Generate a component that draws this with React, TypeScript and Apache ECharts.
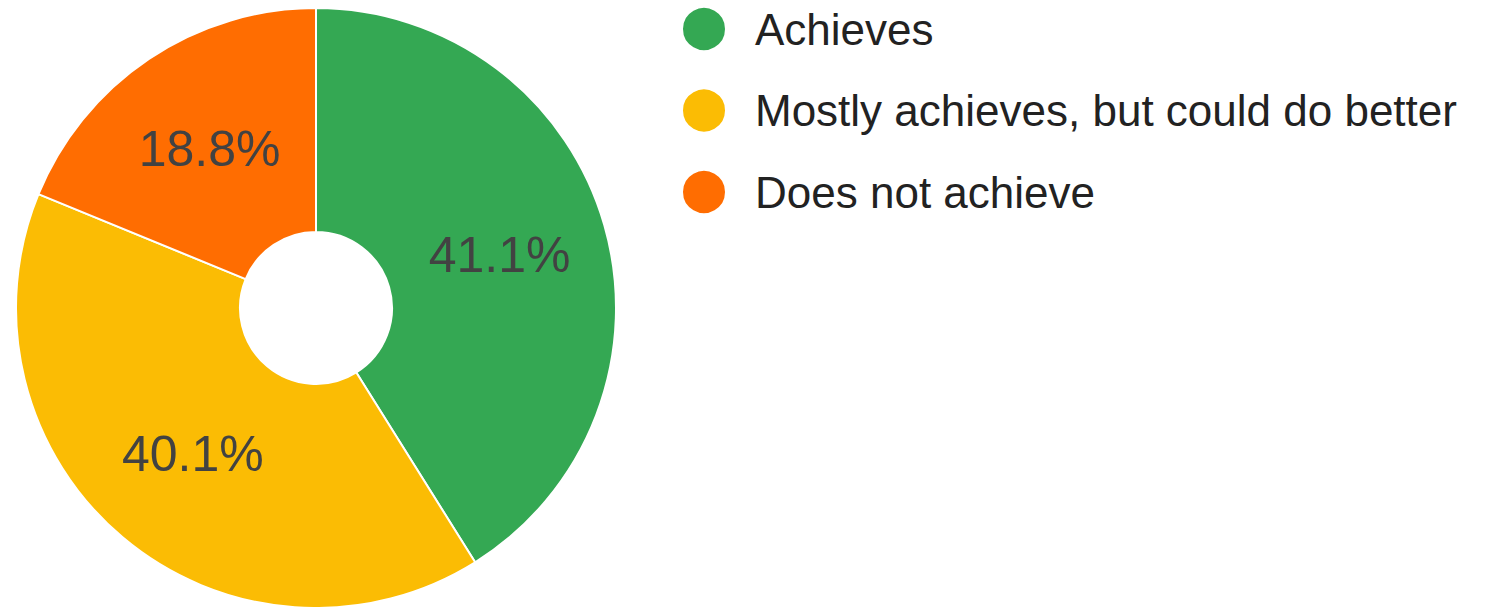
import React, { useEffect, useRef } from "react";
import * as echarts from "echarts";

const categories = ["Achieves", "Mostly achieves, but could do better", "Does not achieve"];
const values = [41.1, 40.1, 18.8];
const colors = ["#34A853", "#FBBC04", "#FF6D01"];

export default function App() {
  const ref = useRef<HTMLDivElement>(null);
  useEffect(() => {
    if (!ref.current) return;
    const chart = echarts.init(ref.current, null, { renderer: "svg" });
    chart.setOption({
      animation: false,
      legend: {
        orient: "vertical",
        left: 681,
        top: 6,
        padding: 0,
        icon: "circle",
        itemWidth: 44,
        itemHeight: 44,
        itemGap: 35.5,
        data: categories,
        selectedMode: false,
        textStyle: {
          fontFamily: "Arial, 'Liberation Sans', sans-serif",
          fontSize: 44,
          color: "#222222",
          padding: [0, 0, 0, 24],
          lineHeight: 44,
        },
      },
      series: [
        {
          type: "pie",
          center: [316, 308],
          radius: [76, 300],
          startAngle: 90,
          clockwise: true,
          silent: true,
          itemStyle: { borderColor: "#ffffff", borderWidth: 2 },
          label: {
            show: true,
            position: "inside",
            formatter: (p: any) => p.value.toFixed(1) + "%",
            fontFamily: "Arial, 'Liberation Sans', sans-serif",
            fontSize: 50,
            color: "#424242",
          },
          labelLine: { show: false },
          emphasis: { disabled: true },
          data: categories.map((name, i) => ({
            name,
            value: values[i],
            itemStyle: { color: colors[i] },
          })),
        },
      ],
    });
    return () => chart.dispose();
  }, []);
  return (
    <div
      ref={ref}
      style={{ position: "absolute", left: 0, top: 0, width: 1489, height: 607, background: "#ffffff" }}
    />
  );
}
